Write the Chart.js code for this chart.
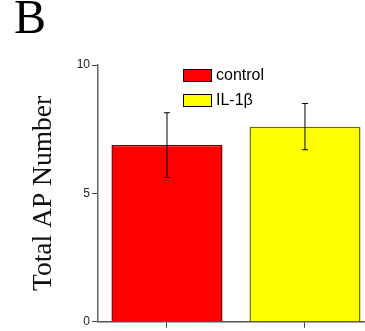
<!DOCTYPE html>
<html>
<head>
<meta charset="utf-8">
<script src="https://cdn.jsdelivr.net/npm/chart.js@4/dist/chart.umd.min.js"></script>
<style>
  html, body { margin: 0; padding: 0; background: #fff; }
  #wrap { width: 365px; height: 331px; }
</style>
</head>
<body>
<div id="wrap"><canvas id="chart"></canvas></div>
<script>
// Panel B: total AP number, control vs IL-1β (mean ± error).
const groups = ["control", "IL-1β"];
const groupX = [1, 2];
const means = [6.88, 7.6];
const errors = [1.26, 0.9];
const yTicks = [0, 5, 10];

const fills = ["#ff0000", "#ffff00"];
const edges = ["#7a0000", "#6e6e00"];

// whiskers with small caps, drawn over the bars
const errorBars = {
  id: "errorBars",
  afterDatasetsDraw(chart, args, opts) {
    const ctx = chart.ctx;
    const y = chart.scales.y;
    ctx.save();
    ctx.strokeStyle = opts.color;
    ctx.lineWidth = opts.width;
    chart.data.datasets.forEach((ds, i) => {
      chart.getDatasetMeta(i).data.forEach((bar, j) => {
        const v = ds.data[j].y;
        const e = ds.errors[j];
        const x = bar.x;
        const hi = y.getPixelForValue(v + e);
        const lo = y.getPixelForValue(v - e);
        ctx.beginPath();
        ctx.moveTo(x, hi); ctx.lineTo(x, lo);
        ctx.moveTo(x - opts.cap, hi); ctx.lineTo(x + opts.cap, hi);
        ctx.moveTo(x - opts.cap, lo); ctx.lineTo(x + opts.cap, lo);
        ctx.stroke();
      });
    });
    ctx.restore();
  }
};

// legend boxes placed inside the plot area
const innerLegend = {
  id: "innerLegend",
  afterDraw(chart, args, opts) {
    const ctx = chart.ctx;
    const area = chart.chartArea;
    ctx.save();
    ctx.font = opts.font;
    ctx.textBaseline = "middle";
    ctx.textAlign = "left";
    chart.data.datasets.forEach((ds, i) => {
      const x = area.left + opts.left;
      const y = area.top + opts.top + i * opts.rowGap;
      ctx.fillStyle = ds.backgroundColor;
      ctx.fillRect(x, y, opts.boxWidth, opts.boxHeight);
      ctx.strokeStyle = "#000";
      ctx.lineWidth = 1;
      ctx.strokeRect(x + 0.5, y + 0.5, opts.boxWidth - 1, opts.boxHeight - 1);
      ctx.fillStyle = "#000";
      ctx.fillText(ds.label, x + opts.boxWidth + opts.textGap, y + opts.boxHeight / 2 + 0.5);
    });
    ctx.restore();
  }
};

function init() {
  const canvas = document.getElementById("chart");

  Chart.defaults.font.family = "'Liberation Sans', Arial, sans-serif";
  Chart.defaults.color = "#222";

  new Chart(canvas.getContext("2d"), {
    type: "bar",
    data: {
      datasets: groups.map((g, i) => ({
        label: g,
        data: [{ x: groupX[i], y: means[i] }],
        errors: [errors[i]],
        backgroundColor: fills[i],
        borderColor: edges[i],
        borderWidth: 1.5,
        grouped: false,
        categoryPercentage: 1,
        barPercentage: 0.805
      }))
    },
    options: {
      responsive: true,
      maintainAspectRatio: false,
      animation: false,
      layout: { padding: { left: 14, top: 0, right: 0, bottom: 0 } },
      plugins: {
        legend: { display: false },
        tooltip: { enabled: false },
        title: {
          display: true,
          text: "B",
          align: "start",
          color: "#000",
          font: { family: "'Liberation Serif', 'Times New Roman', serif", size: 48, weight: "normal", lineHeight: 0.8 },
          padding: { top: 1.6, bottom: 25 }
        },
        errorBars: { color: "#000", width: 1, cap: 3 },
        innerLegend: {
          left: 85, top: 4, rowGap: 25, boxWidth: 29, boxHeight: 13, textGap: 4,
          font: "16px 'Liberation Sans', Arial, sans-serif"
        }
      },
      scales: {
        x: {
          type: "linear",
          offset: false,
          min: 0.5,
          max: 2.435,
          afterBuildTicks: (scale) => { scale.ticks = groupX.map(v => ({ value: v })); },
          ticks: { display: false },
          grid: { offset: false, drawOnChartArea: false, drawTicks: true, tickLength: 6, color: "#444" },
          border: { color: "#555", width: 1.5 }
        },
        y: {
          min: 0,
          max: 10,
          afterBuildTicks: (scale) => { scale.ticks = yTicks.map(v => ({ value: v })); },
          afterFit: (scale) => { scale.width = 84; },
          ticks: { padding: 2, font: { size: 12 }, color: "#222" },
          grid: { drawOnChartArea: false, tickLength: 6, color: "#444" },
          border: { color: "#666", width: 1.5 },
          title: {
            display: true,
            text: "Total AP Number",
            color: "#111",
            font: { family: "'Liberation Serif', 'Times New Roman', serif", size: 27.5, weight: "normal" },
            padding: { top: 13, bottom: 0 }
          }
        }
      }
    },
    plugins: [errorBars, innerLegend]
  });
}

document.addEventListener("DOMContentLoaded", init);
</script>
</body>
</html>
